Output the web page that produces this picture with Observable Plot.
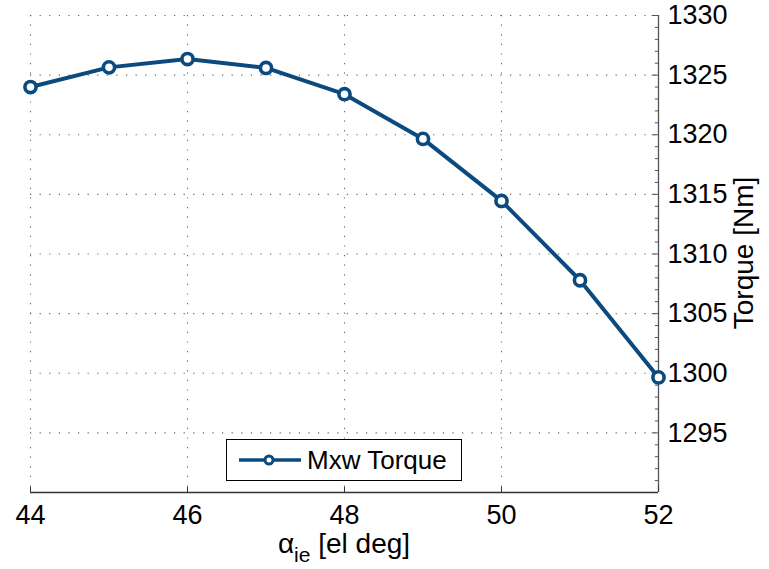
<!DOCTYPE html>
<html><head><meta charset="utf-8">
<script src="https://cdn.jsdelivr.net/npm/d3@7"></script>
<script src="https://cdn.jsdelivr.net/npm/@observablehq/plot@0.6"></script>
<style>
body{margin:0;background:#fff;font-family:"Liberation Sans",Arial,Helvetica,sans-serif;}
#wrap{position:relative;width:769px;height:569px;overflow:hidden;}
.lab{position:absolute;color:#000;white-space:nowrap;line-height:1;}
</style></head><body><div id="wrap"></div>
<script>
// ---- data ----
const angle = [44, 45, 46, 47, 48, 49, 50, 51, 52];
const torque = [1324.0, 1325.65, 1326.35, 1325.6, 1323.4, 1319.65, 1314.45, 1307.8, 1299.65];
const xTicks = [44, 46, 48, 50, 52];
const yTicks = [1295, 1300, 1305, 1310, 1315, 1320, 1325, 1330];
const yMinorTicks = [1291,1292,1293,1294,1296,1297,1298,1299,1301,1302,1303,1304,1306,1307,1308,1309,1311,1312,1313,1314,1316,1317,1318,1319,1321,1322,1323,1324,1326,1327,1328,1329];
const xDomain = [44, 52];
const yDomain = [1290, 1330];
const seriesName = "Mxw Torque";
const xLabelMain = "α";
const xLabelSub = "ie";
const xLabelRest = " [el deg]";
const yLabel = "Torque [Nm]";

const color = "#0b4a7e";
const data = angle.map((a, i) => ({angle: a, torque: torque[i]}));

const plot = Plot.plot({
  width: 769, height: 569,
  marginLeft: 30, marginRight: 111, marginTop: 15, marginBottom: 77,
  style: {fontFamily: '"Liberation Sans", Arial, Helvetica, sans-serif', fontSize: "27px", color: "#000", background: "#fff", overflow: "visible"},
  x: {domain: xDomain},
  y: {domain: yDomain},
  marks: [
    Plot.gridX(xTicks, {stroke: "#555", strokeOpacity: 0.9, strokeWidth: 1.1, strokeDasharray: "1.2,8.4"}),
    Plot.gridY(yTicks, {stroke: "#555", strokeOpacity: 0.9, strokeWidth: 1.1, strokeDasharray: "1.2,8.4"}),
    Plot.ruleY([yDomain[0]], {stroke: "#333", strokeWidth: 1.3}),
    Plot.ruleX([xDomain[1]], {stroke: "#555", strokeWidth: 1.3}),
    // inward ticks
    Plot.ruleX(xTicks, {x: d => d, y1: yDomain[0], y2: yDomain[0] + 0.45, stroke: "#333", strokeWidth: 1}),
    Plot.ruleY(yTicks, {y: d => d, x1: xDomain[1], x2: xDomain[1] - 0.08, stroke: "#555", strokeWidth: 1}),
    Plot.ruleY(yMinorTicks, {y: d => d, x1: xDomain[1], x2: xDomain[1] - 0.04, stroke: "#555", strokeWidth: 1}),
    Plot.axisX(xTicks, {anchor: "bottom", tickSize: 0, tickPadding: 12, label: null, tickFormat: d => String(d)}),
    Plot.axisY(yTicks, {anchor: "right", tickSize: 0, tickPadding: 9, label: null, tickFormat: d => String(d)}),
    Plot.line(data, {x: "angle", y: "torque", stroke: color, strokeWidth: 4}),
    Plot.dot(data, {x: "angle", y: "torque", r: 5.6, stroke: color, strokeWidth: 3.6, fill: "white"})
  ]
});

const wrap = document.getElementById("wrap");
wrap.appendChild(plot);

// x label
const xl = document.createElement("div");
xl.className = "lab";
xl.style.cssText = "left:0;width:688px;top:530px;text-align:center;font-size:28px;";
xl.innerHTML = `${xLabelMain}<sub style="font-size:21px;vertical-align:-9px;line-height:0;">${xLabelSub}</sub>${xLabelRest}`;
wrap.appendChild(xl);

// y label (rotated)
const yl = document.createElement("div");
yl.className = "lab";
yl.style.cssText = "left:744px;top:253px;font-size:28px;transform:translate(-50%,-50%) rotate(-90deg);";
yl.textContent = yLabel;
wrap.appendChild(yl);

// legend
const lg = document.createElement("div");
lg.className = "lab";
lg.style.cssText = "left:226px;top:439px;width:234px;height:40px;border:1px solid #000;background:#fff;";
lg.innerHTML = `<svg width="80" height="40" style="position:absolute;left:0;top:0">
  <line x1="12" x2="74" y1="20" y2="20" stroke="${color}" stroke-width="3.6"/>
  <circle cx="42" cy="20" r="4" stroke="${color}" stroke-width="3" fill="white"/>
</svg><span style="position:absolute;left:80px;top:7px;font-size:26px;">${seriesName}</span>`;
wrap.appendChild(lg);
</script>
</body></html>
